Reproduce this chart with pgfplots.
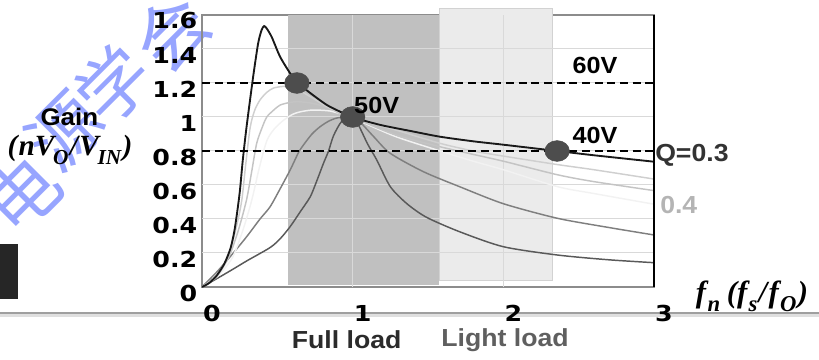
\documentclass[border=0pt]{standalone}
\usepackage{pgfplots}
\pgfplotsset{compat=1.18}
\usepackage{fontspec}
\setmainfont{Liberation Sans}[FakeStretch=1.08]
\newfontfamily\dvs{DejaVu Sans}[FakeStretch=1.15]
\newfontfamily\lserif{Liberation Serif}
\newfontfamily\cjk{Noto Sans CJK SC}
\definecolor{gridc}{HTML}{D9D9D9}
\definecolor{axisc}{HTML}{8C8C8C}
\definecolor{darkreg}{HTML}{C0C0C0}
\definecolor{lightreg}{HTML}{EBEBEB}
\definecolor{lightregb}{HTML}{D2D2D2}
\definecolor{dotc}{HTML}{4D4D4D}
\definecolor{cA}{HTML}{CFCFCF}
\definecolor{cB}{HTML}{C4C4C4}
\definecolor{cC}{HTML}{F2F2F2}
\definecolor{cD}{HTML}{7F7F7F}
\definecolor{cE}{HTML}{595959}
\definecolor{qc}{HTML}{333333}
\definecolor{q4}{HTML}{B4B4B4}
\definecolor{fullc}{HTML}{2B2B2B}
\definecolor{lightc}{HTML}{5F5F5F}
\definecolor{wm}{RGB}{140,155,255}
\newcommand\tickfont{\dvs\bfseries\fontsize{16.5}{18}\selectfont}
\newcommand\sub[2][15]{\raisebox{-0.3em}{\fontsize{#1}{#1}\selectfont #2}}
\begin{document}
\begin{tikzpicture}
\useasboundingbox (0,0) rectangle (614.25pt,270pt);
% watermark (behind everything)
\begin{scope}[opacity=0.9]
\node[font=\cjk\fontsize{54}{54}\selectfont, text=wm, rotate=45] at (17pt,124pt) {电};
\node[font=\cjk\fontsize{54}{54}\selectfont, text=wm, rotate=45] at (49pt,172pt) {源};
\node[font=\cjk\fontsize{54}{54}\selectfont, text=wm, rotate=45] at (85pt,207pt) {学};
\node[font=\cjk\fontsize{54}{54}\selectfont, text=wm, rotate=45] at (129pt,245.25pt) {会};
\end{scope}
\draw[color=gray!25, line width=2pt] (0,33.5pt) -- (614.25pt,33.5pt);
\draw[color=gray!75, line width=1.3pt] (0,35.25pt) -- (614.25pt,35.25pt);
\fill[black!85] (0,45.75pt) rectangle (13.5pt,87pt);
\begin{axis}[
  at={(151.5pt,54.75pt)}, anchor=south west,
  scale only axis, width=339pt, height=204pt,
  xmin=0, xmax=3, ymin=0, ymax=1.6,
  clip=false,
  xtick={0,1,2,3}, xticklabels={0,1,2,3},
  ytick={0,0.2,0.4,0.6,0.8,1,1.2,1.4,1.6},
  yticklabels={0,0.2,0.4,0.6,0.8,1,1.2,1.4,1.6},
  major tick length=0pt,
  axis line style={draw=axisc, line width=1.1pt},
  ticklabel style={font=\tickfont, text=black},
  xticklabel style={yshift=-10pt, xshift=7.5pt},
  yticklabel style={yshift=-4.5pt},
]
% shaded regions
\addplot[fill=darkreg, draw=none] coordinates {(0.57,0.012) (1.575,0.012) (1.575,1.6) (0.57,1.6)} -- cycle;
\addplot[fill=lightreg, draw=lightregb, line width=0.75pt] coordinates {(1.575,0.04) (2.325,0.04) (2.325,1.64) (1.575,1.64)} -- cycle;
% grid lines
\draw[gridc, line width=0.75pt] (axis cs:0,0.2) -- (axis cs:3,0.2);
\draw[gridc, line width=0.75pt] (axis cs:0,0.4) -- (axis cs:3,0.4);
\draw[gridc, line width=0.75pt] (axis cs:0,0.6) -- (axis cs:3,0.6);
\draw[gridc, line width=0.75pt] (axis cs:0,0.8) -- (axis cs:3,0.8);
\draw[gridc, line width=0.75pt] (axis cs:0,1.0) -- (axis cs:3,1.0);
\draw[gridc, line width=0.75pt] (axis cs:0,1.2) -- (axis cs:3,1.2);
\draw[gridc, line width=0.75pt] (axis cs:0,1.4) -- (axis cs:3,1.4);
\draw[gridc, line width=0.75pt] (axis cs:1,0) -- (axis cs:1,1.6);
\draw[gridc, line width=0.75pt] (axis cs:2,0) -- (axis cs:2,1.6);
% curve E (highest Q)
\addplot[cE, line width=1.1pt, smooth, tension=0.45] coordinates {
(0,0) (0.1,0.05) (0.208,0.106) (0.3,0.155) (0.452,0.232) (0.52,0.285) (0.585,0.355) (0.65,0.44) (0.718,0.53) (0.76,0.62) (0.806,0.727) (0.84,0.80) (0.873,0.89) (0.928,0.975) (1,1)
(1.04,0.95) (1.1,0.84) (1.16,0.747) (1.25,0.59) (1.36,0.49) (1.49,0.41) (1.71,0.325) (2.0,0.237) (2.36,0.188) (2.7,0.16) (3,0.143)};
% curve D
\addplot[cD, line width=1.1pt, smooth, tension=0.45] coordinates {
(0,0) (0.1,0.09) (0.208,0.2) (0.3,0.3) (0.385,0.40) (0.452,0.472) (0.52,0.58) (0.585,0.688) (0.64,0.79) (0.673,0.835) (0.73,0.9) (0.784,0.943) (0.84,0.975) (0.9,0.995) (1,1)
(1.05,0.97) (1.14,0.884) (1.25,0.786) (1.47,0.678) (1.71,0.59) (2.0,0.49) (2.36,0.404) (2.7,0.35) (3,0.306)};
% curve C
\addplot[cC, line width=1.1pt, smooth, tension=0.45] coordinates {
(0,0) (0.1,0.06) (0.2,0.17) (0.27,0.33) (0.33,0.51) (0.38,0.70) (0.43,0.86) (0.48,0.93) (0.54,0.98) (0.6,1.015) (0.65,1.03) (0.72,1.04) (0.784,1.04) (0.85,1.035) (0.917,1.02) (1,1)
(1.1,0.955) (1.3,0.88) (1.58,0.80) (1.8,0.74) (2.0,0.69) (2.36,0.59) (2.6,0.55) (3,0.487)};
% curve B
\addplot[cB, line width=1.1pt, smooth, tension=0.45] coordinates {
(0,0) (0.1,0.065) (0.18,0.18) (0.24,0.33) (0.295,0.51) (0.33,0.68) (0.363,0.845) (0.4,0.94) (0.43,1.0) (0.475,1.04) (0.518,1.07) (0.58,1.085) (0.63,1.09) (0.7,1.085) (0.76,1.075) (0.85,1.05) (0.917,1.02) (1,1)
(1.1,0.96) (1.3,0.89) (1.58,0.825) (1.8,0.78) (2.0,0.74) (2.36,0.66) (2.6,0.62) (3,0.567)};
% curve A
\addplot[cA, line width=1.1pt, smooth, tension=0.45] coordinates {
(0,0) (0.1,0.07) (0.18,0.2) (0.23,0.36) (0.264,0.51) (0.29,0.72) (0.32,0.94) (0.35,1.04) (0.385,1.10) (0.43,1.145) (0.474,1.17) (0.54,1.18) (0.6,1.175) (0.63,1.165) (0.718,1.12) (0.83,1.06) (0.92,1.025) (1,1)
(1.1,0.97) (1.3,0.92) (1.58,0.845) (1.8,0.8) (2.0,0.77) (2.36,0.72) (2.6,0.69) (3,0.635)};
% curve Q=0.3 (black)
\addplot[black!90, line width=1.4pt, smooth, tension=0.45] coordinates {
(0,0) (0.05,0.025) (0.1,0.07) (0.15,0.14) (0.19,0.23) (0.215,0.33) (0.235,0.45) (0.252,0.57) (0.27,0.74) (0.29,0.90) (0.31,1.04) (0.34,1.24) (0.372,1.43) (0.395,1.51) (0.412,1.535) (0.43,1.52) (0.463,1.47) (0.518,1.355) (0.585,1.257) (0.63,1.205) (0.72,1.14) (0.83,1.07) (0.92,1.03) (1,1)
(1.07,0.98) (1.2,0.95) (1.4,0.915) (1.58,0.884) (1.8,0.857) (2.0,0.837) (2.357,0.80) (2.6,0.775) (3,0.737)};
% dashed levels
\addplot[black, line width=1.8pt, dash pattern=on 6pt off 3.5pt] coordinates {(0,1.2) (3,1.2)};
\addplot[black, line width=1.8pt, dash pattern=on 6pt off 3.5pt] coordinates {(0,0.8) (3,0.8)};
% operating points
\addplot[only marks, mark=*, mark size=7.8pt, mark options={fill=dotc, draw=dotc, xscale=1.18}] coordinates {(0.63,1.2) (1,1) (2.357,0.8)};
\draw[black, line width=0.9pt] (axis cs:3,0) -- (axis cs:3,1.6);
\end{axis}
% labels
\node[font=\bfseries\fontsize{18}{20}\selectfont] at (52pt,182.25pt) {Gain};
\node[font=\lserif\bfseries\itshape\fontsize{22}{22}\selectfont] at (52.5pt,157.5pt) {(\kern1pt nV\kern-1pt\sub[16]{O}\kern1pt/\kern1pt V\kern-1pt\sub[16]{IN}\kern1pt)};
\node[font=\bfseries\fontsize{17.5}{20}\selectfont] at (446.25pt,221.25pt) {60V};
\node[font=\bfseries\fontsize{17.5}{20}\selectfont] at (446.25pt,168.75pt) {40V};
\node[font=\bfseries\fontsize{17.5}{20}\selectfont] at (282.5pt,191.25pt) {50V};
\node[font=\bfseries\fontsize{18.5}{20}\selectfont, text=qc, anchor=west, inner sep=0pt] at (491.25pt,153.75pt) {Q=0.3};
\node[font=\bfseries\fontsize{18.5}{20}\selectfont, text=q4, anchor=west, inner sep=0pt] at (495pt,116.25pt) {0.4};
\node[font=\bfseries\fontsize{18.5}{20}\selectfont, text=fullc] at (260pt,15pt) {Full load};
\node[font=\bfseries\fontsize{18.5}{20}\selectfont, text=lightc] at (378.75pt,15pt) {Light load};
\node[font=\lserif\bfseries\itshape\fontsize{23}{23}\selectfont] at (564pt,48pt) {f\kern1pt\sub[17]{n}\hspace{5pt}(f\kern1pt\sub[17]{s}\kern1pt/\kern1pt f\kern1pt\sub[17]{O}\kern1pt)};
\end{tikzpicture}
\end{document}
